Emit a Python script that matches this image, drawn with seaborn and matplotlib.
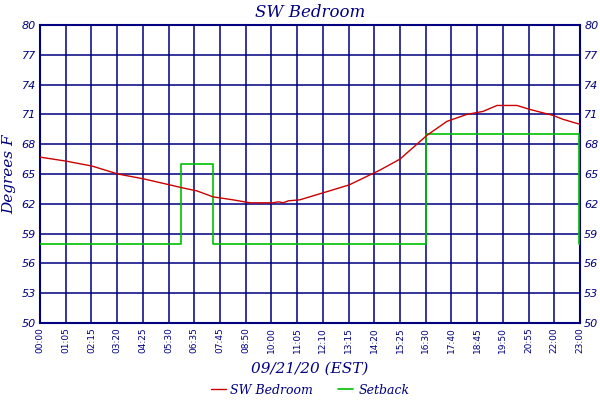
import matplotlib
matplotlib.use("Agg")
import matplotlib.pyplot as plt
import seaborn as sns
import pandas as pd

# temperature readings (minutes since midnight, deg F)
temp_minutes = [0, 66, 133, 199, 266, 332, 365, 401, 442, 493, 537, 595, 610, 621, 635,
                664, 723, 790, 869, 920, 989, 1040, 1091, 1132, 1168, 1219, 1252, 1311, 1337, 1380]
temp_values = [66.7, 66.3, 65.8, 65.0, 64.5, 63.9, 63.6, 63.3, 62.7, 62.4, 62.1, 62.1, 62.2, 62.1, 62.3,
               62.4, 63.1, 63.9, 65.4, 66.5, 68.9, 70.3, 71.0, 71.3, 71.9, 71.9, 71.5, 70.9, 70.5, 70.0]

# setback schedule (step changes)
setback_minutes = [0, 360, 442, 986, 1377, 1380]
setback_values = [58, 66, 58, 69, 58, 58]

tick_labels = ["00:00", "01:05", "02:15", "03:20", "04:25", "05:30", "06:35", "07:45",
               "08:50", "10:00", "11:05", "12:10", "13:15", "14:20", "15:25", "16:30",
               "17:40", "18:45", "19:50", "20:55", "22:00", "23:00"]
y_ticks = [50, 53, 56, 59, 62, 65, 68, 71, 74, 77, 80]

navy = "#000080"

sns.set_style("white")
plt.rcParams["font.family"] = ["DejaVu Sans"]

temp_df = pd.DataFrame({"minute": temp_minutes, "temp": temp_values})
setback_df = pd.DataFrame({"minute": setback_minutes, "temp": setback_values})

fig = plt.figure(figsize=(6, 4), dpi=100)
ax = fig.add_axes([40 / 600, 1 - 323 / 400, 540 / 600, 298 / 400])

sns.lineplot(data=setback_df, x="minute", y="temp", ax=ax, color="#00c000",
             linewidth=1.2, drawstyle="steps-post", label="Setback", zorder=3)
sns.lineplot(data=temp_df, x="minute", y="temp", ax=ax, color="#cc0000",
             linewidth=1.0, label="SW Bedroom", zorder=4)

xt = [i * 1380 / 21 for i in range(len(tick_labels))]
ax.set_xlim(0, 1380)
ax.set_ylim(50, 80)
ax.set_xticks(xt)
ax.set_xticklabels(tick_labels, rotation=90, fontsize=6.5, color=navy)
ax.set_yticks(y_ticks)
ax.set_yticklabels([str(v) for v in y_ticks], fontsize=8, color=navy, style="italic")
ax.tick_params(axis="both", length=0, pad=3)
ax.grid(True, color=navy, linewidth=1.1)
for s in ax.spines.values():
    s.set_color(navy)
    s.set_linewidth(1.5)

ax2 = ax.twinx()
ax2.set_ylim(50, 80)
ax2.set_yticks(y_ticks)
ax2.set_yticklabels([str(v) for v in y_ticks], fontsize=8, color=navy, style="italic")
ax2.tick_params(axis="y", length=0, pad=3)
for s in ax2.spines.values():
    s.set_visible(False)

serif = {"family": "DejaVu Serif", "style": "italic", "color": navy}
ax.set_title("SW Bedroom", fontsize=12, pad=6, **serif)
ax.set_xlabel("09/21/20 (EST)", fontsize=11, labelpad=6, **serif)
ax.set_ylabel("Degrees F", fontsize=11, labelpad=4, **serif)

handles, labels = ax.get_legend_handles_labels()
order = [labels.index("SW Bedroom"), labels.index("Setback")]
leg = ax.legend([handles[i] for i in order], [labels[i] for i in order],
                loc="center", bbox_to_anchor=(0.5, -0.225), ncol=2, frameon=False,
                handlelength=1.2, columnspacing=2, handletextpad=0.4,
                prop={"family": "DejaVu Serif", "style": "italic", "size": 9})
for t in leg.get_texts():
    t.set_color(navy)

fig.savefig("out.png", dpi=100)
